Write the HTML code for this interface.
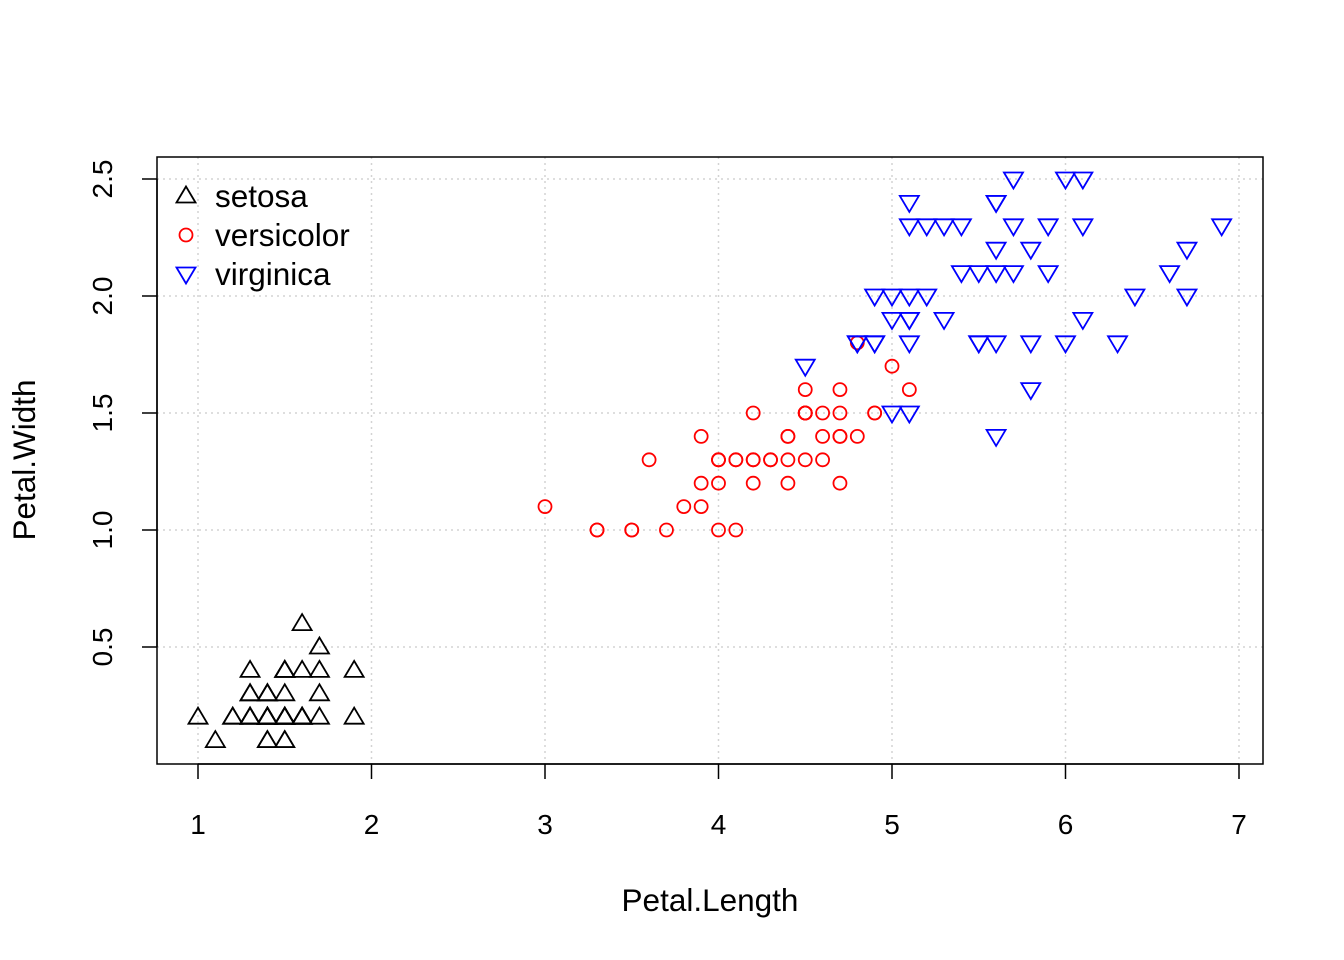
<!DOCTYPE html>
<html><head><meta charset="utf-8"><style>
html,body{margin:0;padding:0;background:#fff}
svg{display:block;font-family:"Liberation Sans",Arial,sans-serif}
</style></head><body>
<svg id="chart" width="1344" height="960" viewBox="0 0 1344 960" xmlns="http://www.w3.org/2000/svg">
<rect width="1344" height="960" fill="#fff"/>
<g id="grid"></g>
<g id="axes"></g>
<g id="points"></g>
<rect x="157" y="157" width="1106" height="607" fill="none" stroke="#000" stroke-width="1.5"/>
<text x="710" y="911" font-size="31.5" text-anchor="middle">Petal.Length</text>
<text x="0" y="0" font-size="31.5" text-anchor="middle" transform="translate(35,460) rotate(-90)">Petal.Width</text>
<g id="legend"></g>
</svg>
<script>
const xTicks=[1,2,3,4,5,6,7];
const yTicks=[0.5,1.0,1.5,2.0,2.5];
const yTickLabels=["0.5","1.0","1.5","2.0","2.5"];
const species=["setosa","versicolor","virginica"];
const setosaLength=[1.4,1.4,1.3,1.5,1.4,1.7,1.4,1.5,1.4,1.5,1.5,1.6,1.4,1.1,1.2,1.5,1.3,1.4,1.7,1.5,1.7,1.5,1.0,1.7,1.9,1.6,1.6,1.5,1.4,1.6,1.6,1.5,1.5,1.4,1.5,1.2,1.3,1.4,1.3,1.5,1.3,1.3,1.3,1.6,1.9,1.4,1.6,1.4,1.5,1.4];
const setosaWidth=[0.2,0.2,0.2,0.2,0.2,0.4,0.3,0.2,0.2,0.1,0.2,0.2,0.1,0.1,0.2,0.4,0.4,0.3,0.3,0.3,0.2,0.4,0.2,0.5,0.2,0.2,0.4,0.2,0.2,0.2,0.2,0.4,0.1,0.2,0.2,0.2,0.2,0.1,0.2,0.2,0.3,0.3,0.2,0.6,0.4,0.3,0.2,0.2,0.2,0.2];
const versicolorLength=[4.7,4.5,4.9,4.0,4.6,4.5,4.7,3.3,4.6,3.9,3.5,4.2,4.0,4.7,3.6,4.4,4.5,4.1,4.5,3.9,4.8,4.0,4.9,4.7,4.3,4.4,4.8,5.0,4.5,3.5,3.8,3.7,3.9,5.1,4.5,4.5,4.7,4.4,4.1,4.0,4.4,4.6,4.0,3.3,4.2,4.2,4.2,4.3,3.0,4.1];
const versicolorWidth=[1.4,1.5,1.5,1.3,1.5,1.3,1.6,1.0,1.3,1.4,1.0,1.5,1.0,1.4,1.3,1.4,1.5,1.0,1.5,1.1,1.8,1.3,1.5,1.2,1.3,1.4,1.4,1.7,1.5,1.0,1.1,1.0,1.2,1.6,1.5,1.6,1.5,1.3,1.3,1.3,1.2,1.4,1.2,1.0,1.3,1.2,1.3,1.3,1.1,1.3];
const virginicaLength=[6.0,5.1,5.9,5.6,5.8,6.6,4.5,6.3,5.8,6.1,5.1,5.3,5.5,5.0,5.1,5.3,5.5,6.7,6.9,5.0,5.7,4.9,6.7,4.9,5.7,6.0,4.8,4.9,5.6,5.8,6.1,6.4,5.6,5.1,5.6,6.1,5.6,5.5,4.8,5.4,5.6,5.1,5.1,5.9,5.7,5.2,5.0,5.2,5.4,5.1];
const virginicaWidth=[2.5,1.9,2.1,1.8,2.2,2.1,1.7,1.8,1.8,2.5,2.0,1.9,2.1,2.0,2.4,2.3,1.8,2.2,2.3,1.5,2.3,2.0,2.0,1.8,2.1,1.8,1.8,1.8,2.1,1.6,1.9,2.0,2.2,1.5,1.4,2.3,2.4,1.8,1.8,2.1,2.4,2.3,1.9,2.3,2.5,2.3,1.9,2.0,2.3,1.8];

const NS="http://www.w3.org/2000/svg";
const xs=v=>198+(v-1)*173.5;
const ys=v=>647-(v-0.5)*234;
function mk(tag,attrs,parent){const e=document.createElementNS(NS,tag);for(const k in attrs)e.setAttribute(k,attrs[k]);parent.appendChild(e);return e;}
const grid=document.getElementById('grid'),axes=document.getElementById('axes'),pts=document.getElementById('points'),leg=document.getElementById('legend');
xTicks.forEach(t=>{
  const g=mk('line',{x1:xs(t),x2:xs(t),y1:157,y2:764,stroke:'#d3d3d3','stroke-width':1.5,'stroke-dasharray':'2,4'},grid);
  
  
  const tk=mk('line',{x1:xs(t),x2:xs(t),y1:764,y2:779,stroke:'#000','stroke-width':1.5},axes);
  
  
  const tl=mk('text',{x:xs(t),y:834,'font-size':28,'text-anchor':'middle'},axes);
  tl.textContent=t;
  
  
});
mk('line',{x1:xs(1),x2:xs(7),y1:764,y2:764,stroke:'#000','stroke-width':1.5},axes);
yTicks.forEach((t,i)=>{
  const g=mk('line',{x1:157,x2:1263,y1:ys(t),y2:ys(t),stroke:'#d3d3d3','stroke-width':1.5,'stroke-dasharray':'2,4'},grid);
  
  
  const tk=mk('line',{x1:142,x2:157,y1:ys(t),y2:ys(t),stroke:'#000','stroke-width':1.5},axes);
  
  
  const tl=mk('text',{x:0,y:0,'font-size':28,'text-anchor':'middle',transform:`translate(112,${ys(t)}) rotate(-90)`},axes);
  tl.textContent=yTickLabels[i];
  
  
});
mk('line',{x1:157,x2:157,y1:ys(0.5),y2:ys(2.5),stroke:'#000','stroke-width':1.5},axes);

function tri(x,y,up){const h=8.5,w=9.5;return up?`${x},${y-h-1} ${x-w},${y+h-2} ${x+w},${y+h-2}`:`${x},${y+h+1} ${x-w},${y-h+2} ${x+w},${y-h+2}`;}
function marker(kind,x,y,parent,name){
  let e;
  if(kind==='circle')e=mk('circle',{cx:x,cy:y,r:6.5,fill:'none',stroke:'#ff0000','stroke-width':1.8},parent);
  else e=mk('polygon',{points:tri(x,y,kind==='up'),fill:'none',stroke:kind==='up'?'#000':'#0000ff','stroke-width':1.8},parent);
  
  
}
const series=[[setosaLength,setosaWidth,'up'],[versicolorLength,versicolorWidth,'circle'],[virginicaLength,virginicaWidth,'down']];
series.forEach((s,si)=>{s[0].forEach((v,i)=>marker(s[2],xs(v),ys(s[1][i]),pts,species[si]+'-point'));});
species.forEach((sp,i)=>{
  const y=196+i*39;
  marker(series[i][2],186,y,leg,'legend-marker-'+sp);
  const t=mk('text',{x:215,y:y+11,'font-size':31.5},leg);
  t.textContent=sp;
  
  
});
</script>
</body></html>
